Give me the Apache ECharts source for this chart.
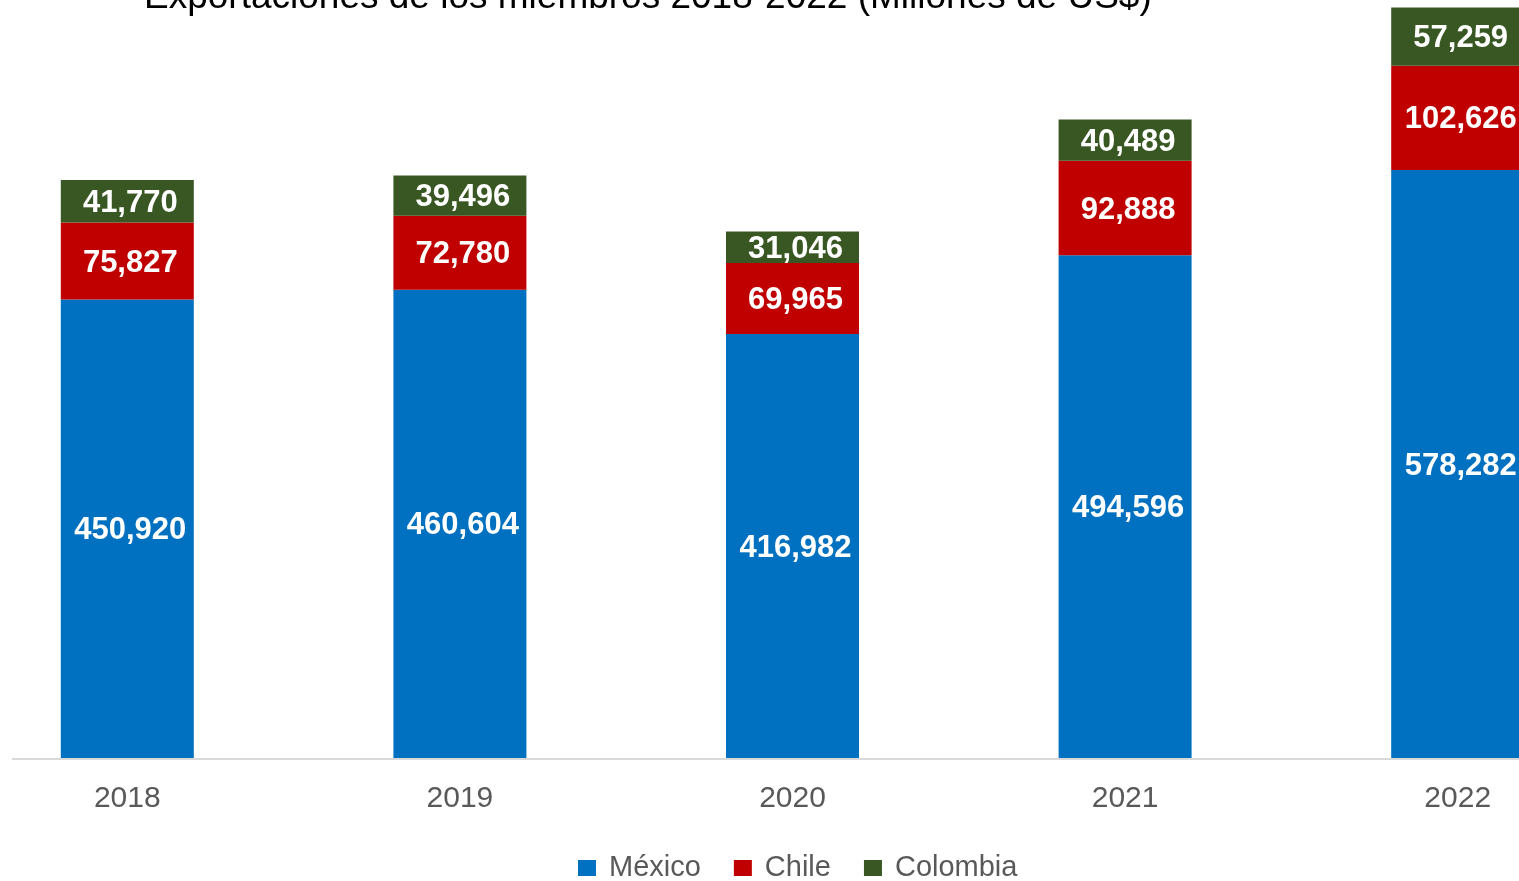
<!DOCTYPE html>
<html>
<head>
<meta charset="utf-8">
<title>Exportaciones de los miembros 2018-2022</title>
<script src="https://cdn.jsdelivr.net/npm/echarts@6/dist/echarts.min.js"></script>
<style>
  html, body { margin: 0; padding: 0; background: #ffffff; overflow: hidden; width: 1519px; height: 881px; }
  /* The plot runs past both edges of the page: the last bar is cut by the right border */
  #chart { position: absolute; left: -39px; top: 0; width: 1663px; height: 881px; }
</style>
</head>
<body>
<div id="chart"></div>
<script>
// Exports by member country, millions of US$
const years = ['2018', '2019', '2020', '2021', '2022'];
const mexico = [450920, 460604, 416982, 494596, 578282];
const chile = [75827, 72780, 69965, 92888, 102626];
const colombia = [41770, 39496, 31046, 40489, 57259];

const FONT = "'Liberation Sans', Arial, sans-serif";
const fmt = v => v.toLocaleString('en-US');

const segLabel = {
  show: true,
  position: 'inside',
  offset: [3, 2],
  color: '#ffffff',
  fontFamily: FONT,
  fontWeight: 'bold',
  fontSize: 31,
  formatter: p => fmt(p.value)
};

function stackSeries(name, values, color) {
  return {
    name: name,
    type: 'bar',
    stack: 'total',
    barWidth: 133,
    data: values,
    itemStyle: { color: color },
    label: segLabel,
    emphasis: { disabled: true }
  };
}

const chart = echarts.init(document.getElementById('chart'), null, { renderer: 'canvas' });
chart.setOption({
  backgroundColor: '#ffffff',
  animation: false,
  title: {
    text: 'Exportaciones de los miembros 2018-2022 (Millones de US$)',
    left: 178,
    top: -26,
    textStyle: { fontFamily: FONT, fontWeight: 'normal', fontSize: 37, color: '#000000' }
  },
  legend: {
    left: 612,
    top: 848,
    itemWidth: 18,
    itemHeight: 16,
    itemGap: 33,
    icon: 'rect',
    textStyle: { fontFamily: FONT, fontSize: 29, color: '#595959', padding: [0, 0, 0, 8], lineHeight: 30 },
    data: ['México', 'Chile', 'Colombia']
  },
  grid: { left: 0, right: 0, top: 5.7, bottom: 123, containLabel: false },
  xAxis: {
    type: 'category',
    data: years,
    axisLine: { show: false },
    axisTick: { show: false },
    axisLabel: { margin: 26, fontFamily: FONT, fontSize: 30, color: '#595959' }
  },
  yAxis: {
    type: 'value',
    min: 0,
    max: 740000,
    show: false,
    splitLine: { show: false }
  },
  graphic: [{
    type: 'line',
    shape: { x1: 51, y1: 759, x2: 1663, y2: 759 },
    style: { stroke: '#d9d9d9', lineWidth: 2 },
    z: 0
  }],
  series: [
    stackSeries('México', mexico, '#0070C0'),
    stackSeries('Chile', chile, '#C00000'),
    stackSeries('Colombia', colombia, '#385723')
  ]
});
</script>
</body>
</html>
